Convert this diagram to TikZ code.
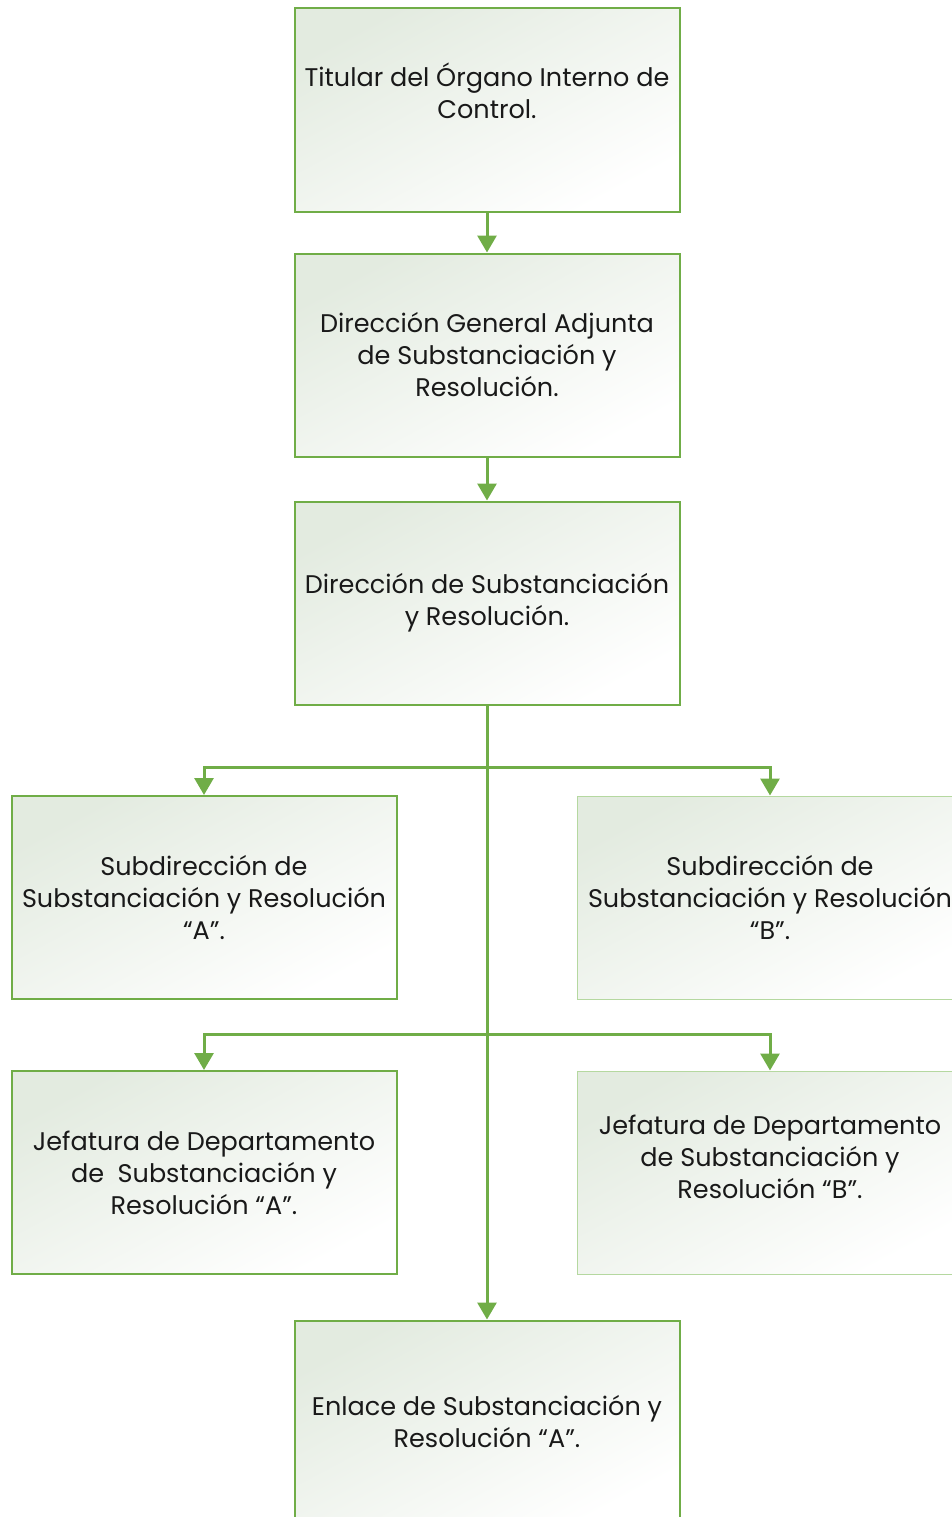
\documentclass[tikz,border=0pt]{standalone}
\usepackage{fontspec}
\setmainfont{Poppins}
\usetikzlibrary{arrows.meta}

\definecolor{orggreen}{HTML}{70AD47}
\definecolor{palegreen}{HTML}{B5D8A0}
\definecolor{boxtint}{HTML}{E3EBE0}

\tikzset{
  orgbox/.style={rectangle, draw=orggreen, line width=2pt,
    minimum width=385pt, minimum height=203pt, inner sep=0pt,
    align=center, text=black!90,
    font=\fontsize{25.5}{32}\selectfont,
    top color=boxtint, middle color=white!97!boxtint, bottom color=white, shading angle=28},
  orgboxlight/.style={orgbox, draw=palegreen, line width=1pt},
  conn/.style={draw=orggreen, line width=3pt, -{Triangle[length=17pt,width=19pt]}}
}

\begin{document}
\begin{tikzpicture}[x=1pt,y=1pt]
  \useasboundingbox (0,0) rectangle (951,-1517);

  % boxes
  \node[orgbox] (tit) at (487,-110) {Titular del Órgano Interno de\\Control.\\[6pt]\mbox{}};
  \node[orgbox] (dga) at (487,-355) {Dirección General Adjunta\\de Substanciación y\\Resolución.};
  \node[orgbox] (dsr) at (487,-603) {Dirección de Substanciación\\y Resolución.};
  \node[orgbox] (suba) at (204,-897.5) {Subdirección de\\Substanciación y Resolución\\“A”.};
  \node[orgboxlight] (subb) at (770,-897.5) {Subdirección de\\Substanciación y Resolución\\“B”.};
  \node[orgbox] (jefa) at (204,-1172.5) {Jefatura de Departamento\\de~ Substanciación y\\Resolución “A”.};
  \node[orgboxlight] (jefb) at (770,-1172.5) {Jefatura de Departamento\\de Substanciación y\\Resolución “B”.\\\mbox{}};
  \node[orgbox] (enl) at (487,-1422) {Enlace de Substanciación y\\Resolución “A”.};

  % branch points
  \coordinate (br1) at (487,-767);
  \coordinate (br2) at (487,-1034);

  % connectors
  \draw[conn] (tit) -- (dga);
  \draw[conn] (dga) -- (dsr);
  \draw[conn] (dsr) -- (enl);
  \draw[conn] (br1) -| (suba);
  \draw[conn] (br1) -| (subb);
  \draw[conn] (br2) -| (jefa);
  \draw[conn] (br2) -| (jefb);
\end{tikzpicture}
\end{document}
